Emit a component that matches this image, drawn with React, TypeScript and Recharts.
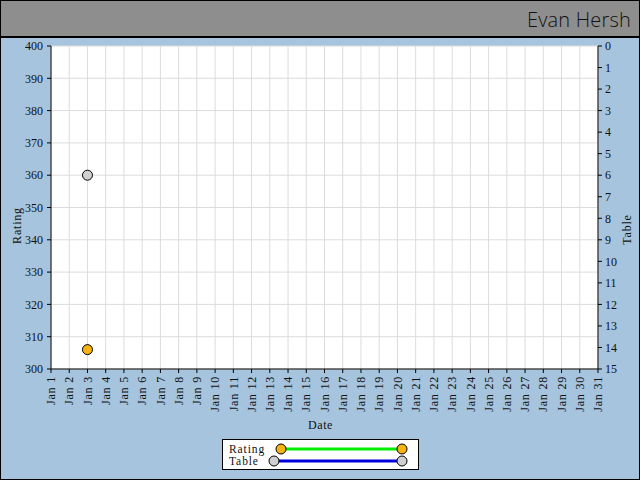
import React from 'react';
import { ComposedChart, Line, XAxis, YAxis, CartesianGrid, Legend } from 'recharts';

const dates = [
  'Jan 1', 'Jan 2', 'Jan 3', 'Jan 4', 'Jan 5', 'Jan 6', 'Jan 7', 'Jan 8', 'Jan 9', 'Jan 10',
  'Jan 11', 'Jan 12', 'Jan 13', 'Jan 14', 'Jan 15', 'Jan 16', 'Jan 17', 'Jan 18', 'Jan 19', 'Jan 20',
  'Jan 21', 'Jan 22', 'Jan 23', 'Jan 24', 'Jan 25', 'Jan 26', 'Jan 27', 'Jan 28', 'Jan 29', 'Jan 30', 'Jan 31',
];
const ratingValues: (number | null)[] = [
  null, null, 306, null, null, null, null, null, null, null,
  null, null, null, null, null, null, null, null, null, null,
  null, null, null, null, null, null, null, null, null, null, null,
];
const tableValues: (number | null)[] = [
  null, null, 6, null, null, null, null, null, null, null,
  null, null, null, null, null, null, null, null, null, null,
  null, null, null, null, null, null, null, null, null, null, null,
];
const ratingTicks = [300, 310, 320, 330, 340, 350, 360, 370, 380, 390, 400];
const tableTicks = [0, 1, 2, 3, 4, 5, 6, 7, 8, 9, 10, 11, 12, 13, 14, 15];

const data = dates.map((d, i) => ({ date: d, rating: ratingValues[i], table: tableValues[i] }));

const FONT = '"Liberation Serif", "DejaVu Serif", serif';
const BG = '#a6c4de';

const XTick = (props: any) => {
  const { x, y, payload } = props;
  return (
    <text
      x={x}
      y={y}
      transform={`rotate(-90, ${x}, ${y})`}
      textAnchor="end"
      dy="0.35em"
      fontFamily={FONT}
      fontSize={12}
      letterSpacing={0.8}
      fill="#111"
    >
      {payload.value}
    </text>
  );
};

const LegendBox = () => (
  <div
    style={{
      width: 197,
      height: 31,
      margin: '0 auto',
      boxSizing: 'border-box',
      border: '1px solid #000',
      background: '#fff',
    }}
  >
    <svg width={195} height={29} style={{ display: 'block' }}>
      <text x={6} y={13} fontFamily={FONT} fontSize={11.5} letterSpacing={0.9} fill="#111">Rating</text>
      <line x1={58} y1={9} x2={179} y2={9} stroke="#00ee00" strokeWidth={3} />
      <circle cx={58} cy={9} r={5} fill="#f7b316" stroke="#000" strokeWidth={1} />
      <circle cx={179} cy={9} r={5} fill="#f7b316" stroke="#000" strokeWidth={1} />
      <text x={6} y={25} fontFamily={FONT} fontSize={11.5} letterSpacing={0.9} fill="#111">Table</text>
      <line x1={51} y1={21} x2={179} y2={21} stroke="#0000dd" strokeWidth={3} />
      <circle cx={51} cy={21} r={5} fill="#d0d0d0" stroke="#000" strokeWidth={1} />
      <circle cx={179} cy={21} r={5} fill="#d0d0d0" stroke="#000" strokeWidth={1} />
    </svg>
  </div>
);

export default function App() {
  return (
    <div
      style={{
        position: 'absolute',
        top: 0,
        left: 0,
        width: 640,
        height: 480,
        boxSizing: 'border-box',
        border: '1px solid #000',
        background: BG,
        overflow: 'hidden',
      }}
    >
      <div style={{ position: 'absolute', top: -1, left: -1 }}>
        <ComposedChart
          width={640}
          height={480}
          data={data}
          margin={{ top: 46, right: 0, bottom: 10, left: 0 }}
        >
          <CartesianGrid stroke="#dcdcdc" fill="#ffffff" yAxisId="left" />
          <XAxis
            dataKey="date"
            interval={0}
            height={70}
            tick={<XTick />}
            tickSize={4}
            tickMargin={3}
            stroke="#000"
            tickLine={{ stroke: '#000' }}
            label={(p: any) => {
              const vb = p.viewBox;
              return (
                <text x={vb.x + vb.width / 2 - 4} y={vb.y + 60} textAnchor="middle" fontFamily={FONT} fontSize={12} letterSpacing={0.6} fill="#111">
                  Date
                </text>
              );
            }}
          />
          <YAxis
            yAxisId="left"
            domain={[300, 400]}
            ticks={ratingTicks}
            width={51}
            tickSize={4}
            tickMargin={4}
            stroke="#000"
            tick={{ fontFamily: FONT, fontSize: 12, fill: '#111' }}
            label={(p: any) => {
              const vb = p.viewBox;
              const cx = vb.x + 17;
              const cy = vb.y + vb.height / 2 + 18;
              return (
                <text x={cx} y={cy} transform={`rotate(-90, ${cx}, ${cy})`} textAnchor="middle" dy="0.35em" fontFamily={FONT} fontSize={12} letterSpacing={0.8} fill="#111">
                  Rating
                </text>
              );
            }}
          />
          <YAxis
            yAxisId="right"
            orientation="right"
            reversed
            domain={[0, 15]}
            ticks={tableTicks}
            interval={0}
            width={42}
            tickSize={4}
            tickMargin={3}
            stroke="#000"
            tick={{ fontFamily: FONT, fontSize: 12, fill: '#111' }}
            label={(p: any) => {
              const vb = p.viewBox;
              const cx = vb.x + 29;
              const cy = vb.y + vb.height / 2 + 22;
              return (
                <text x={cx} y={cy} transform={`rotate(-90, ${cx}, ${cy})`} textAnchor="middle" dy="0.35em" fontFamily={FONT} fontSize={12} letterSpacing={0.8} fill="#111">
                  Table
                </text>
              );
            }}
          />
          <Legend verticalAlign="bottom" content={<LegendBox />} wrapperStyle={{ height: 31 }} />
          <Line
            yAxisId="left"
            dataKey="rating"
            name="Rating"
            stroke="#00ee00"
            strokeWidth={3}
            dot={{ r: 5, fill: '#f7b316', stroke: '#000', strokeWidth: 1 }}
            isAnimationActive={false}
          />
          <Line
            yAxisId="right"
            dataKey="table"
            name="Table"
            stroke="#0000dd"
            strokeWidth={3}
            dot={{ r: 5, fill: '#d0d0d0', stroke: '#000', strokeWidth: 1 }}
            isAnimationActive={false}
          />
        </ComposedChart>
      </div>
      <div
        style={{
          position: 'absolute',
          top: 0,
          left: 0,
          width: 638,
          height: 35,
          background: '#8e8e8e',
          borderBottom: '2px solid #000',
        }}
      >
        <div
          style={{
            position: 'absolute',
            right: 8,
            top: 5,
            fontFamily: '"Open Sans", "DejaVu Sans", sans-serif',
            fontWeight: 300,
            fontSize: 20,
            color: '#111',
            letterSpacing: 0.2,
          }}
        >
          Evan Hersh
        </div>
      </div>
    </div>
  );
}
